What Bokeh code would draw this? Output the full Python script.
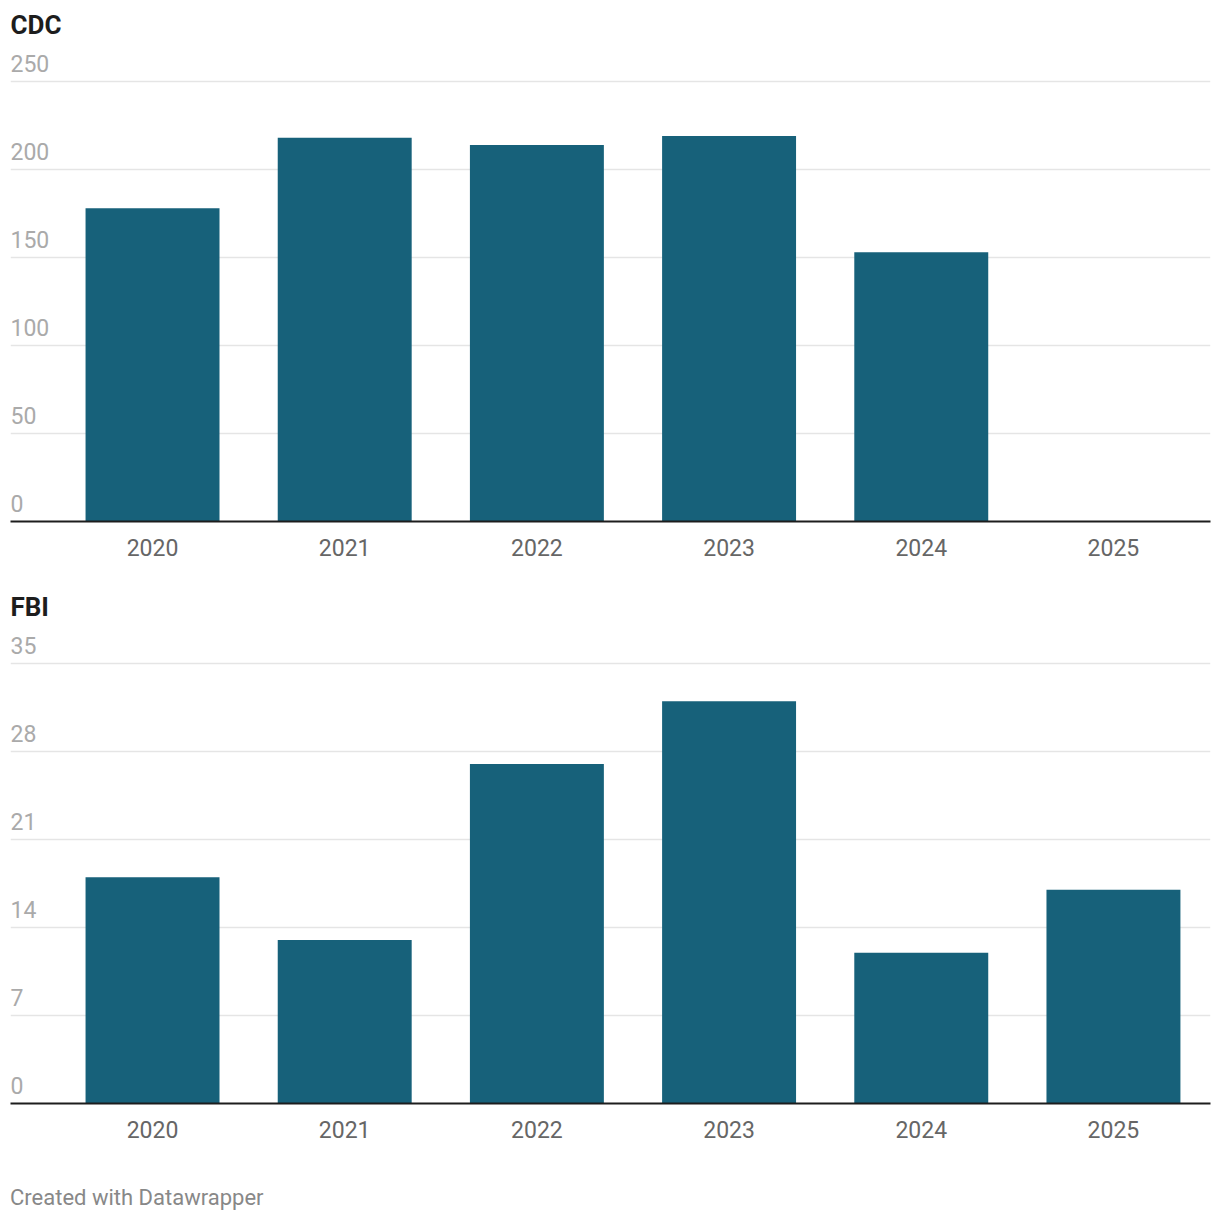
from bokeh.plotting import figure
from bokeh.layouts import column
from bokeh.models import ColumnDataSource, FixedTicker, Range1d, Div
from bokeh.embed import file_html
from bokeh.resources import INLINE

years = ["2020", "2021", "2022", "2023", "2024", "2025"]
cdc_values = [178, 218, 214, 219, 153, None]
cdc_ticks = [0, 50, 100, 150, 200, 250]
fbi_values = [18, 13, 27, 32, 12, 17]
fbi_ticks = [0, 7, 14, 21, 28, 35]

BAR = "#17617a"
FONT = "Roboto"
YRATIO = 1.091


def panel(title, values, ticks, height):
    idx = list(range(len(years)))
    src = ColumnDataSource(dict(x=[i for i, v in zip(idx, values) if v is not None],
                                top=[v for v in values if v is not None]))
    p = figure(width=1212, height=height, output_backend="svg", toolbar_location=None,
               min_border_left=10, min_border_right=2, min_border_top=41, min_border_bottom=61)
    p.title.text = title
    p.title.text_font = FONT
    p.title.text_font_size = "26px"
    p.title.text_font_style = "bold"
    p.title.text_color = "#1d1d1d"
    p.title.offset = 0
    p.title.standoff = 4
    p.outline_line_color = None
    p.x_range = Range1d(-0.739, 5.505)
    p.y_range = Range1d(0, ticks[-1] * YRATIO)
    p.vbar(x="x", top="top", width=0.697, source=src, fill_color=BAR, line_color=None)
    p.yaxis.visible = False
    p.ygrid.ticker = FixedTicker(ticks=ticks)
    p.ygrid.grid_line_color = "#e5e5e5"
    p.ygrid.grid_line_width = 1.5
    p.xgrid.visible = False
    p.xaxis.ticker = FixedTicker(ticks=idx)
    p.xaxis.major_label_overrides = {i: y for i, y in zip(idx, years)}
    p.xaxis.major_tick_line_color = None
    p.xaxis.minor_tick_line_color = None
    p.xaxis.axis_line_color = "#1d1d1d"
    p.xaxis.axis_line_width = 2
    p.xaxis.major_label_text_font = FONT
    p.xaxis.major_label_text_font_size = "23px"
    p.xaxis.major_label_text_color = "#666666"
    p.xaxis.major_label_standoff = 11
    lab = ColumnDataSource(dict(x=[-0.739] * len(ticks), y=ticks, t=[str(t) for t in ticks]))
    p.text(x="x", y="y", text="t", source=lab, text_font_size="23px",
           text_color="#aaaaaa", text_baseline="bottom", text_align="left", y_offset=-10,
           text_font={"value": FONT})
    return p


p1 = panel("CDC", cdc_values, cdc_ticks, 582)
p2 = panel("FBI", fbi_values, fbi_ticks, 582)
foot = Div(text='<span style="font-family:Roboto;font-size:22px;color:#888888">Created with Datawrapper</span>',
           width=600, height=50, styles={"margin-left": "10px", "margin-top": "18px"})
lay = column(p1, p2, foot, spacing=0)
open("out.html", "w").write(file_html(lay, INLINE))
